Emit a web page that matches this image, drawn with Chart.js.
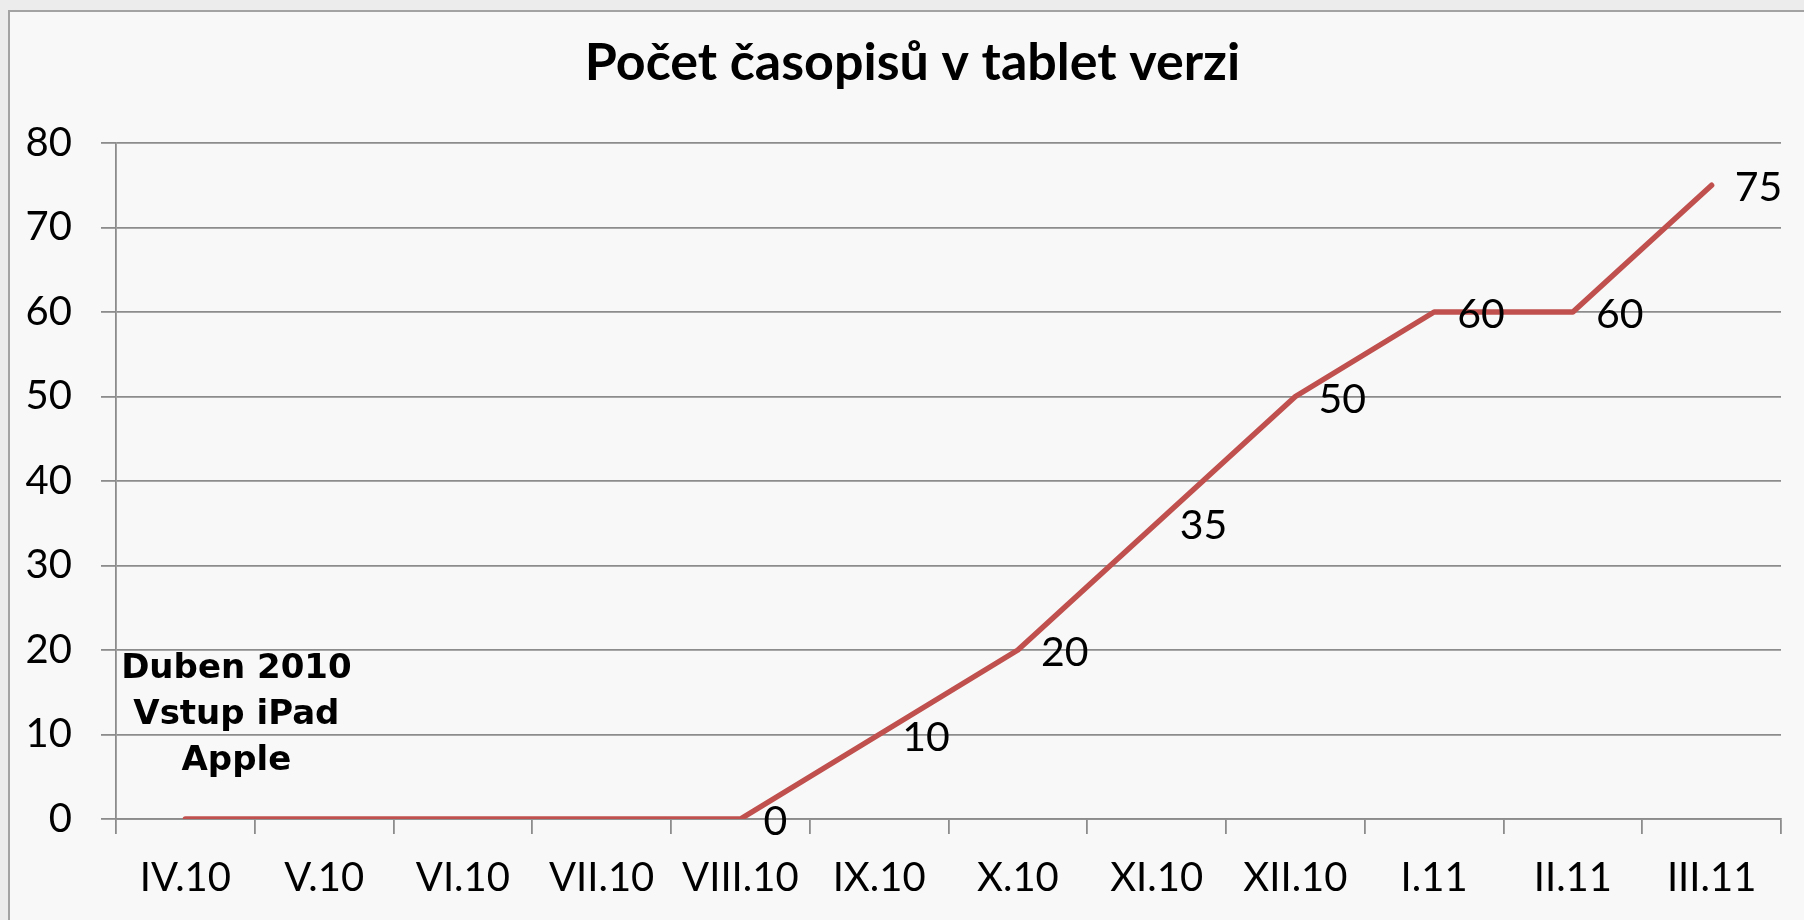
<!DOCTYPE html>
<html>
<head>
<meta charset="utf-8">
<script src="https://cdn.jsdelivr.net/npm/chart.js@4.4.1/dist/chart.umd.min.js"></script>
<style>
  body { margin: 0; background: #ececec; overflow: hidden; }
  .frame {
    position: absolute; left: 8px; top: 10px; width: 1810px; height: 930px;
    border: 2px solid #a3a3a3; background: #f8f8f8;
  }
  #wrap { position: absolute; left: 0; top: 0; width: 1804px; height: 920px; }
</style>
</head>
<body>
<div class="frame"></div>
<div id="wrap"><canvas id="myChart" width="1804" height="920"></canvas></div>
<script>
const months = ['IV.10', 'V.10', 'VI.10', 'VII.10', 'VIII.10', 'IX.10', 'X.10', 'XI.10', 'XII.10', 'I.11', 'II.11', 'III.11']
const magazines = [0, 0, 0, 0, 0, 10, 20, 35, 50, 60, 60, 75]
// first four zero points carry no label in the original
const showLabel = [false, false, false, false, true, true, true, true, true, true, true, true]
const yTicks = [0, 10, 20, 30, 40, 50, 60, 70, 80]
const note = ['Duben 2010', 'Vstup iPad', 'Apple']

const ctx = document.getElementById('myChart')
const FONT = 'Lato, Calibri, sans-serif'

// value labels to the right of each point
const pointLabels = {
  id: 'pointLabels',
  afterDatasetsDraw(chart) {
    const c = chart.ctx
    const meta = chart.getDatasetMeta(0)
    c.save()
    c.font = '41px ' + FONT
    c.fillStyle = '#000'
    c.textAlign = 'left'
    c.textBaseline = 'middle'
    meta.data.forEach((pt, i) => {
      if (!showLabel[i]) return
      c.fillText(String(magazines[i]), pt.x + 23, pt.y + 3)
    })
    c.restore()
  }
}

// the "Duben 2010" note near the first point
const introNote = {
  id: 'introNote',
  afterDatasetsDraw(chart) {
    const c = chart.ctx
    const x = chart.scales.x.getPixelForValue(0) + 51
    const y0 = chart.scales.y.getPixelForValue(17.7)
    c.save()
    c.font = 'bold 34px "DejaVu Sans", sans-serif'
    c.fillStyle = '#000'
    c.textAlign = 'center'
    c.textBaseline = 'middle'
    note.forEach((line, i) => c.fillText(line, x, y0 + i * 46))
    c.restore()
  }
}

// title sits a bit right of the canvas centre in the original
const titleShift = {
  id: 'titleShift',
  afterLayout(chart) {
    if (chart.titleBlock) chart.titleBlock.left = 44
  }
}

new Chart(ctx, {
  type: 'line',
  data: {
    labels: months,
    datasets: [{
      label: 'Počet časopisů',
      data: magazines,
      borderColor: '#C0504D',
      borderWidth: 5.5,
      borderCapStyle: 'round',
      borderJoinStyle: 'round',
      pointRadius: 0,
      tension: 0
    }]
  },
  options: {
    responsive: false,
    animation: false,
    layout: { padding: { left: 0, right: 23, top: 0, bottom: 0 } },
    plugins: {
      legend: { display: false },
      tooltip: { enabled: false },
      title: {
        display: true,
        text: 'Počet časopisů v tablet verzi',
        color: '#000',
        font: { family: FONT, size: 52, weight: 'bold', lineHeight: 1.2 },
        padding: { top: 32, bottom: 48.6 }
      }
    },
    scales: {
      x: {
        offset: true,
        grid: { offset: true, drawOnChartArea: false, drawTicks: true, tickLength: 15, color: '#8c8c8c', lineWidth: 1.8 },
        border: { display: true, color: '#8c8c8c', width: 1.8 },
        ticks: { color: '#000', font: { family: FONT, size: 40 }, padding: 20, maxRotation: 0, autoSkip: false },
        afterFit(scale) { scale.height = 101 }
      },
      y: {
        min: 0,
        max: 80,
        afterBuildTicks(scale) { scale.ticks = yTicks.map(v => ({ value: v })) },
        grid: { color: '#8c8c8c', lineWidth: 1.8, tickLength: 15 },
        border: { display: true, color: '#8c8c8c', width: 1.8 },
        ticks: { color: '#000', font: { family: FONT, size: 40 }, padding: 29 },
        afterFit(scale) { scale.width = 116 }
      }
    }
  },
  plugins: [pointLabels, introNote, titleShift]
})
</script>
</body>
</html>
